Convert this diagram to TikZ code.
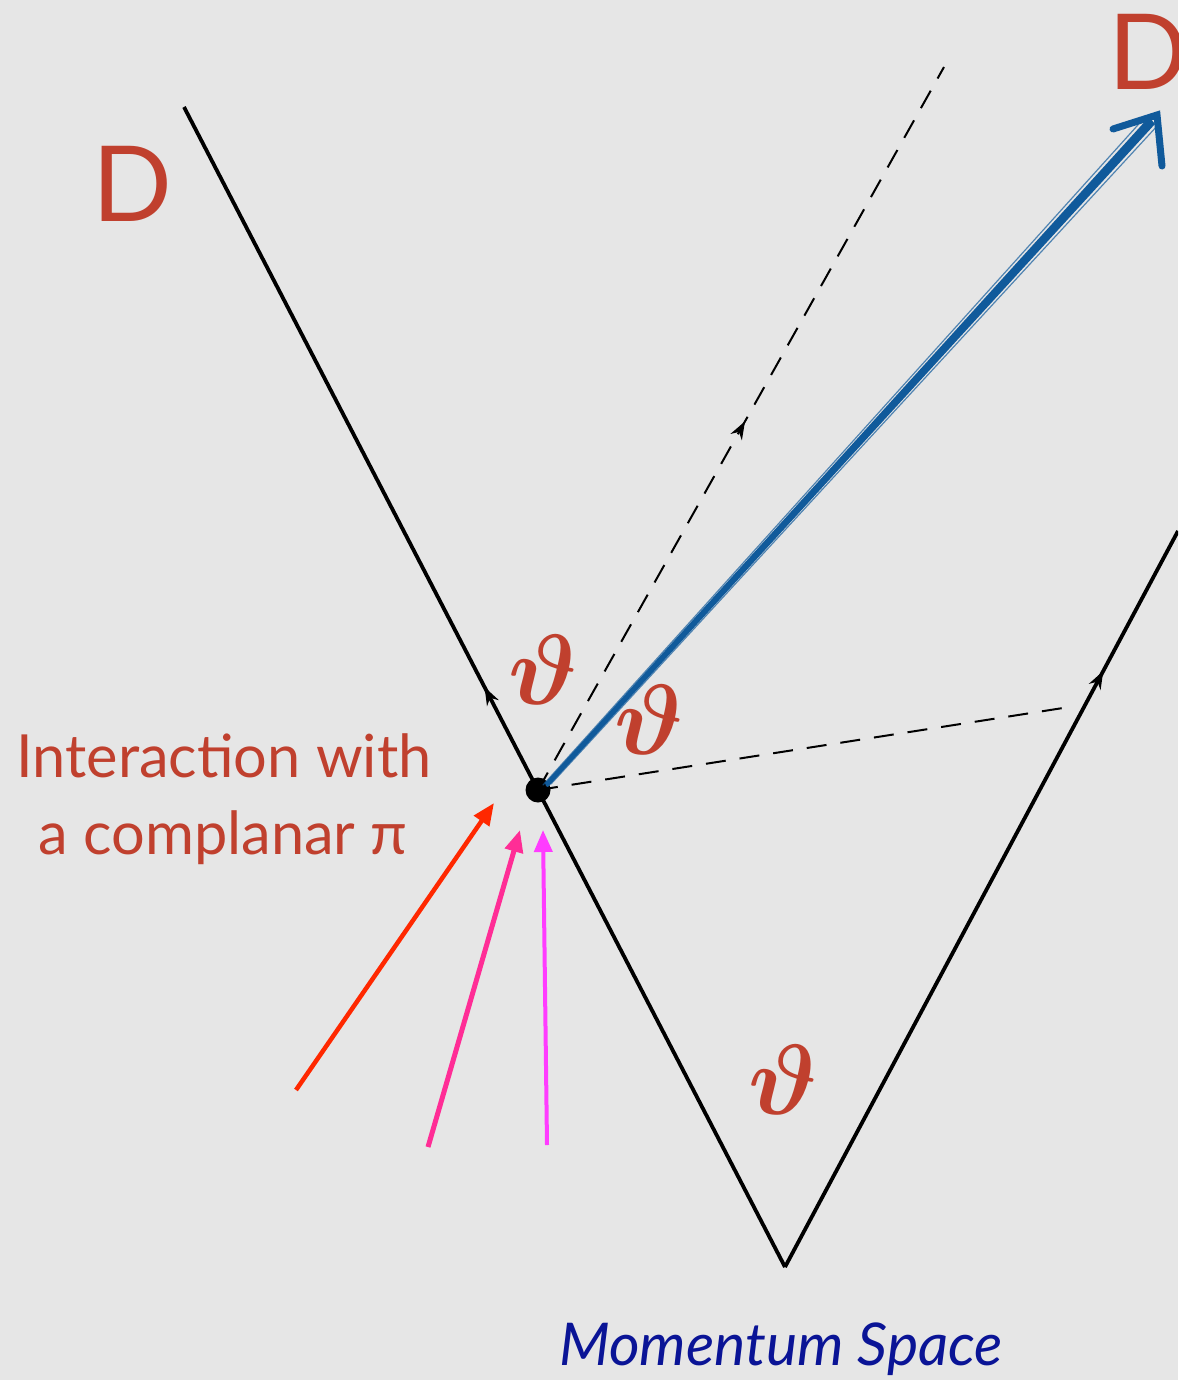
\documentclass[tikz,border=0pt]{standalone}
\usepackage{amsmath}
\usepackage{fontspec}
\setmainfont{Lato}
\usetikzlibrary{arrows.meta,decorations.markings,calc}
\definecolor{bgc}{RGB}{230,230,230}
\definecolor{lblred}{RGB}{192,64,46}
\definecolor{arrred}{RGB}{255,40,0}
\definecolor{arrpink}{RGB}{255,45,150}
\definecolor{arrmag}{RGB}{255,60,255}
\definecolor{blu}{RGB}{16,90,155}
\definecolor{navy}{RGB}{10,20,150}
\tikzset{
  mainline/.style={line width=3.8pt},
  dashline/.style={line width=2pt,dash pattern=on 20pt off 14pt},
  midarrow/.style={postaction={decorate},decoration={markings,
     mark=at position #1 with {\arrow{Stealth[length=18pt,width=13pt]}}}},
  pionarrow/.style={line width=4.5pt,-{Triangle[length=22pt,width=18pt]}},
  thetalbl/.style={text=lblred,scale=10,inner sep=0pt},
  bigD/.style={text=lblred,font=\fontsize{105}{110}\selectfont,inner sep=0pt},
  redtxt/.style={text=lblred,font=\fontsize{59.5}{70}\selectfont,inner sep=0pt},
  bluestroke/.style={draw=blu,line cap=round}
}
\begin{document}
\begin{tikzpicture}[x=1pt,y=-1pt]
\fill[bgc] (0,0) rectangle (1178,1380);
\useasboundingbox (0,0) rectangle (1178,1380);
\clip (0,0) rectangle (1178,1380);
% key points
\coordinate (LT) at (184,107);
\coordinate (V) at (785,1267);
\coordinate (RT) at (1178,531);
\coordinate (DU) at (944,67);
\coordinate (DR) at (1063,708);
% main lines
\draw[mainline,midarrow=0.5] (V) -- (LT);
\draw[mainline,midarrow=0.81] (V) -- (RT);
\node[circle,fill=black,inner sep=0pt,minimum size=25pt] (P) at (538,790) {};
% dashed lines
\draw[dashline,midarrow=0.51] (P.center) -- (DU);
\draw[dashline] (P.center) -- (DR);
% blue sketchy arrow (tapered shaft)
\coordinate (BS) at (546,786);
\coordinate (BT) at (1157,115);
\coordinate (BH1) at (1113,129);
\coordinate (BH2) at (1162,166);
\fill[blu] (BS) -- ($(BS)+(-1,-3)$) -- ($(BT)+(-8,2)$) -- ($(BT)+(-2,9)$) -- ($(BS)+(2,1)$) -- cycle;
\draw[bluestroke,line width=1.2pt,opacity=0.7] ($(BS)+(5,-2)$) -- ($(BT)+(1,10)$);
\draw[bluestroke,line width=1.2pt,opacity=0.7] ($(BS)+(-3,-1)$) -- ($(BT)+(-11,1)$);
\draw[bluestroke,line width=7pt] (BH1) -- (BT) -- (BH2);
% pion arrows
\coordinate (A1s) at (296,1090); \coordinate (A1e) at (494,803);
\coordinate (A2s) at (428,1147); \coordinate (A2e) at (520,830);
\coordinate (A3s) at (547,1145); \coordinate (A3e) at (543,830);
\draw[pionarrow,arrred] (A1s) -- (A1e);
\draw[pionarrow,arrpink,line width=5pt] (A2s) -- (A2e);
\draw[pionarrow,arrmag,line width=4pt] (A3s) -- (A3e);
% labels
\node[bigD,anchor=base west] (D1) at (92,222) {D};
\node[bigD,anchor=base west] (D2) at (1108,90) {D};
\node[thetalbl] (T1) at (543,670) {$\boldsymbol{\vartheta}$};
\node[thetalbl] (T2) at (649,720) {$\boldsymbol{\vartheta}$};
\node[thetalbl] (T3) at (783,1080) {$\boldsymbol{\vartheta}$};
\node[redtxt,anchor=base] (L1) at (224,777) {Interaction with};
\node[redtxt,anchor=base] (L2) at (223,854) {a complanar π};
\node[text=navy,font=\fontsize{59}{66}\selectfont\itshape,anchor=base,inner sep=0pt] (MS) at (781,1365) {Momentum Space};
\end{tikzpicture}
\end{document}
